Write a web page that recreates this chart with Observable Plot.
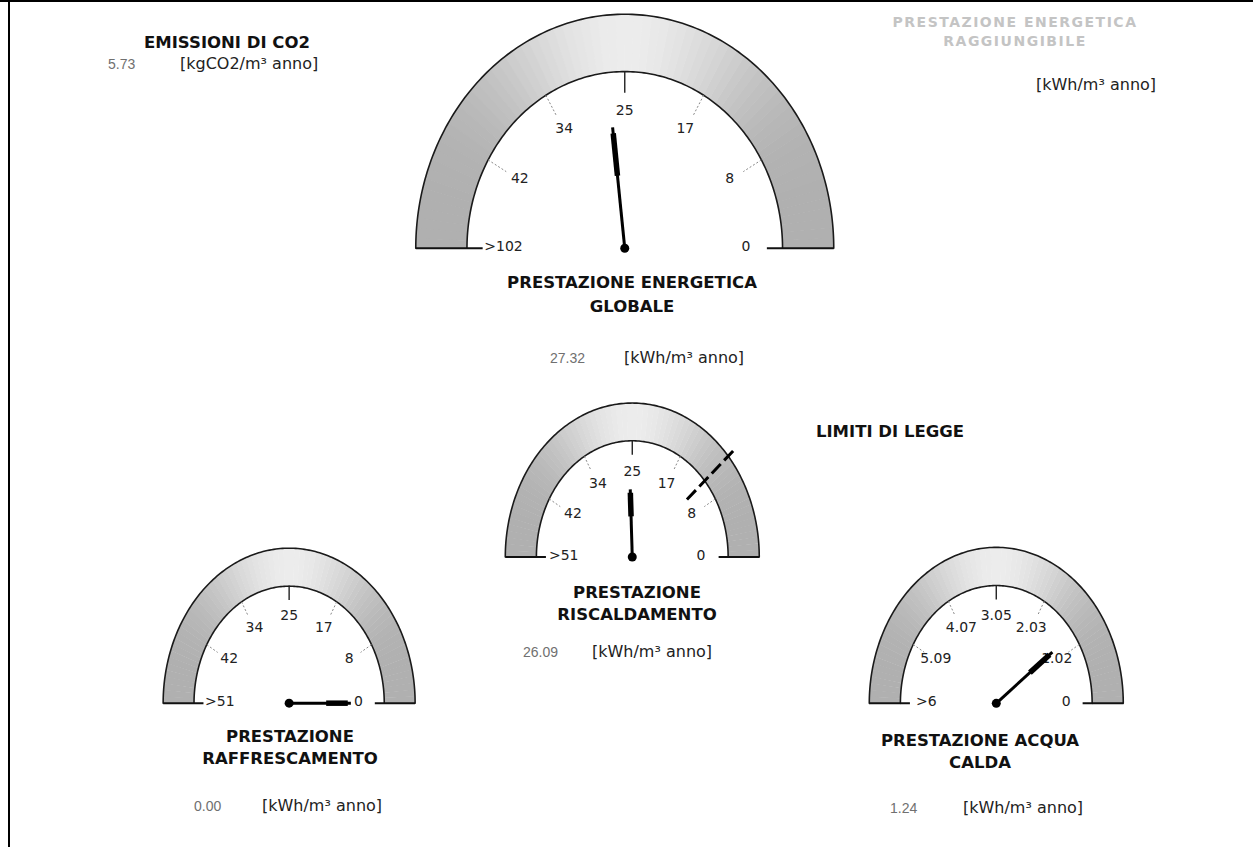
<!DOCTYPE html>
<html><head><meta charset="utf-8">
<script src="https://cdn.jsdelivr.net/npm/d3@7"></script>
<script src="https://cdn.jsdelivr.net/npm/@observablehq/plot@0.6"></script>
<style>
body{margin:0;background:#fff;}
#page{position:relative;width:1253px;height:847px;overflow:hidden;background:#fff;font-family:"DejaVu Sans",sans-serif;}
.t{position:absolute;white-space:nowrap;line-height:1;}
.c{transform:translate(-50%,-50%);text-align:center;}
.l{transform:translate(0,-50%);}
.title{font-weight:bold;font-size:16.5px;color:#111;}
.faint{font-weight:bold;font-size:14px;color:#c4c4c4;letter-spacing:1.5px;}
.val{font-family:"Liberation Sans",sans-serif;font-size:14px;color:#707070;}
.unit{font-size:16px;color:#222;}
.g{position:absolute;}
</style></head><body><div id="page"></div>
<script>
// ---------- data ----------
const gaugeTitles = [["PRESTAZIONE ENERGETICA","GLOBALE"],["PRESTAZIONE","RISCALDAMENTO"],["PRESTAZIONE","RAFFRESCAMENTO"],["PRESTAZIONE ACQUA","CALDA"]];
const gaugeValues = [27.32, 26.09, 0.00, 1.24];
const gaugeValueLabels = ["27.32", "26.09", "0.00", "1.24"];
const gaugeMax = [51, 51, 51, 6.1];
const tickLabelsGlobale = ["0","8","17","25","34","42",">102"];
const tickLabelsRiscaldamento = ["0","8","17","25","34","42",">51"];
const tickLabelsRaffrescamento = ["0","8","17","25","34","42",">51"];
const tickLabelsAcqua = ["0","1.02","2.03","3.05","4.07","5.09",">6"];
const limiteRiscaldamento = 11.6;
const co2Title = "EMISSIONI DI CO2";
const co2Value = "5.73";
const co2Unit = "[kgCO2/m³ anno]";
const energyUnit = "[kWh/m³ anno]";
const raggiungibileTitle = ["PRESTAZIONE ENERGETICA","RAGGIUNGIBILE"];
const limitiTitle = "LIMITI DI LEGGE";
const tickLabels = [tickLabelsGlobale, tickLabelsRiscaldamento, tickLabelsRaffrescamento, tickLabelsAcqua];

// ---------- layout ----------
const layout = [
  {cx:624, cy:248, rx:209, ry:234, labelR:0.58, needle:0.52, fs:14, titleX:632, titleY:[283,307], valueX:550, unitX:624, rowY:358},
  {cx:632, cy:557, rx:127, ry:154, labelR:0.54, needle:0.44, fs:14, titleX:637, titleY:[593,615], valueX:523, unitX:592, rowY:652},
  {cx:289, cy:703, rx:126, ry:155, labelR:0.55, needle:0.49, fs:14, titleX:290, titleY:[737,759], valueX:194, unitX:262, rowY:806},
  {cx:996, cy:703, rx:127, ry:156, labelR:0.55, needle:0.55, fs:14, titleX:980, titleY:[741,763], valueX:890, unitX:963, rowY:808}
];

const page = document.getElementById("page");
function addText(txt, x, y, cls, center=true){
  const d = document.createElement("div");
  d.className = "t " + cls + (center ? " c" : " l");
  d.style.left = x + "px"; d.style.top = y + "px";
  d.textContent = txt;
  page.appendChild(d);
}
function addBox(x,y,w,h,c){
  const d = document.createElement("div");
  Object.assign(d.style,{position:"absolute",left:x+"px",top:y+"px",width:w+"px",height:h+"px",background:c});
  page.appendChild(d);
}

const pt = (r,a) => ({x: r*Math.cos(a), y: r*Math.sin(a)});

function gauge(i){
  const L = layout[i], max = gaugeMax[i], labels = tickLabels[i];
  const ang = d3.scaleLinear().domain([0, max]).range([0, Math.PI]);
  const rO = 1, rI = 0.755, pad = 0.14, padB = 0.12;
  const W = (2 + 2*pad) * L.rx, H = (1 + pad + padB) * L.ry;
  const marks = [];
  // band slices (lighter at the top, darker on the sides)
  const N = 72;
  for (let k = 0; k < N; k++){
    const a0 = k/N*Math.PI, a1 = Math.min(Math.PI, (k+1)/N*Math.PI + 0.003);
    const poly = [];
    for (let j = 0; j <= 3; j++) poly.push(pt(rO, a0 + (a1-a0)*j/3));
    for (let j = 3; j >= 0; j--) poly.push(pt(rI, a0 + (a1-a0)*j/3));
    const am = (a0+a1)/2;
    const g = Math.round(176 + 60*Math.pow(Math.sin(am), 4));
    marks.push(Plot.line(poly, {x:"x", y:"y", fill:`rgb(${g},${g},${g})`, stroke:"none", curve:"linear-closed"}));
  }
  const arc = r => d3.range(0, 181).map(d => pt(r, d*Math.PI/180));
  marks.push(Plot.line(arc(rO), {x:"x", y:"y", stroke:"#1a1a1a", strokeWidth:1.6}));
  marks.push(Plot.line(arc(rI), {x:"x", y:"y", stroke:"#1a1a1a", strokeWidth:1.6}));
  // base lines at 0 and max
  marks.push(Plot.link([0, max], {x1: v => rO*Math.cos(ang(v)), y1: () => 0, x2: v => 0.68*Math.cos(ang(v)), y2: () => 0, stroke:"#111", strokeWidth:2}));
  // ticks
  const tickData = labels.map((s,k) => ({s, v: k/(labels.length-1)*max, k}));
  const inner = tickData.filter(d => d.k > 0 && d.k < labels.length-1);
  marks.push(Plot.link(inner.filter(d => d.k !== 3), {
    x1: d => rI*Math.cos(ang(d.v)), y1: d => rI*Math.sin(ang(d.v)),
    x2: d => (rI-0.1)*Math.cos(ang(d.v)), y2: d => (rI-0.1)*Math.sin(ang(d.v)),
    stroke:"#888", strokeWidth:1, strokeDasharray:"2,2"}));
  marks.push(Plot.link(inner.filter(d => d.k === 3), {
    x1: d => rI*Math.cos(ang(d.v)), y1: d => rI*Math.sin(ang(d.v)),
    x2: d => (rI-0.09)*Math.cos(ang(d.v)), y2: d => (rI-0.09)*Math.sin(ang(d.v)),
    stroke:"#222", strokeWidth:1.4}));
  // tick labels
  marks.push(Plot.text(tickData, {x: d => L.labelR*Math.cos(ang(d.v)), y: d => L.labelR*Math.sin(ang(d.v)),
    text:"s", fontSize:L.fs, fill:"#222", dy:-2, fontFamily:"DejaVu Sans"}));
  // legal limit marker
  if (i === 1){
    const a = ang(limiteRiscaldamento);
    marks.push(Plot.link([limiteRiscaldamento], {x1: () => 0.57*Math.cos(a), y1: () => 0.57*Math.sin(a),
      x2: () => 1.06*Math.cos(a), y2: () => 1.06*Math.sin(a), stroke:"#000", strokeWidth:3, strokeDasharray:"13,5"}));
  }
  // needle
  const a = ang(gaugeValues[i]), len = L.needle;
  marks.push(Plot.link([gaugeValues[i]], {x1: () => 0, y1: () => 0, x2: () => len*Math.cos(a), y2: () => len*Math.sin(a),
    stroke:"#000", strokeWidth:3}));
  marks.push(Plot.link([gaugeValues[i]], {x1: () => 0.6*len*Math.cos(a), y1: () => 0.6*len*Math.sin(a),
    x2: () => 0.95*len*Math.cos(a), y2: () => 0.95*len*Math.sin(a), stroke:"#000", strokeWidth:5.5}));
  marks.push(Plot.dot([0], {x: () => 0, y: () => 0, r:4.5, fill:"#000", stroke:"none"}));

  const svg = Plot.plot({width: W, height: H, margin: 0,
    x: {domain: [-1-pad, 1+pad], axis: null},
    y: {domain: [-padB, 1+pad], axis: null},
    style: {background: "transparent", overflow: "visible"},
    marks});
  const wrap = document.createElement("div");
  wrap.className = "g";
  wrap.style.left = (L.cx - (1+pad)*L.rx) + "px";
  wrap.style.top = (L.cy - (1+pad)*L.ry) + "px";
  wrap.appendChild(svg);
  page.appendChild(wrap);

  addText(gaugeTitles[i][0], L.titleX, L.titleY[0], "title");
  addText(gaugeTitles[i][1], L.titleX, L.titleY[1], "title");
  addText(gaugeValueLabels[i], L.valueX, L.rowY, "val", false);
  addText(energyUnit, L.unitX, L.rowY, "unit", false);
}

// frame
addBox(0, 0, 1253, 2, "#000");
addBox(8, 0, 2, 847, "#000");

for (let i = 0; i < 4; i++) gauge(i);

addText(co2Title, 227, 43, "title");
addText(co2Value, 108, 64, "val", false);
addText(co2Unit, 180, 64, "unit", false);
addText(raggiungibileTitle[0], 1015, 22, "faint");
addText(raggiungibileTitle[1], 1015, 41, "faint");
addText(energyUnit, 1036, 85, "unit", false);
addText(limitiTitle, 890, 432, "title");
</script></body></html>
